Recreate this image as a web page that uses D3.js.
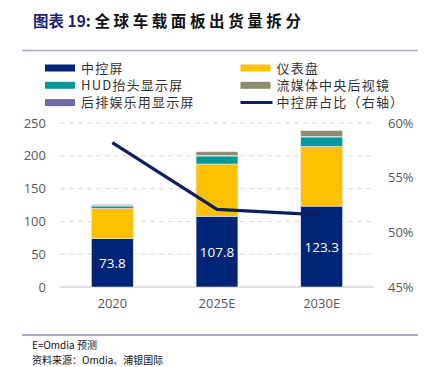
<!DOCTYPE html>
<html><head><meta charset="utf-8">
<script src="https://cdn.jsdelivr.net/npm/d3@7"></script>
<style>
body{margin:0;background:#fff;}
svg{display:block;font-family:"Noto Sans CJK SC","Open Sans",sans-serif;}
</style></head>
<body><svg id="c" width="426" height="367"></svg>
<script>
const categories = ["2020", "2025E", "2030E"];
const seriesNames = ["中控屏", "仪表盘", "HUD抬头显示屏", "流媒体中央后视镜", "后排娱乐用显示屏"];
const centerDisplay = [73.8, 107.8, 123.3];
const cluster = [46.2, 79.7, 91.2];
const hud = [3.4, 12.2, 14.2];
const mirror = [1.6, 5.5, 8.6];
const rearEntertainment = [0.6, 1.0, 1.0];
const shareRatio = [58.2, 52.1, 51.6];
const lineName = "中控屏占比（右轴）";
const leftTicks = [0, 50, 100, 150, 200, 250];
const rightTicks = [45, 50, 55, 60];
const colors = ["#002476", "#FFC000", "#00999A", "#8D8C6C", "#6A6AA8"];

const svg = d3.select("#c");
// Title
const t = svg.append("text").attr("x", 33).attr("y", 27).attr("font-size", 15.5).attr("font-weight", "bold");
t.append("tspan").attr("fill", "#1f1f78").text("图表 19");
t.append("tspan").attr("fill", "#111").attr("letter-spacing", 3.6).text(":全球车载面板出货量拆分");
svg.append("line").attr("x1", 22).attr("x2", 418).attr("y1", 50.5).attr("y2", 50.5).attr("stroke", "#a8a8cc").attr("stroke-width", 1.5);

// Legend
const legendItems = [
  {name: seriesNames[0], color: colors[0], col: 0, row: 0},
  {name: seriesNames[1], color: colors[1], col: 1, row: 0},
  {name: seriesNames[2], color: colors[2], col: 0, row: 1},
  {name: seriesNames[3], color: colors[3], col: 1, row: 1},
  {name: seriesNames[4], color: colors[4], col: 0, row: 2},
  {name: lineName, color: "#0c1f5e", col: 1, row: 2, line: true}
];
const lg = svg.append("g");
legendItems.forEach(d => {
  const x = d.col ? 240.5 : 45, y = 68 + d.row * 17.3;
  if (d.line) lg.append("line").attr("x1", x).attr("x2", x + 32).attr("y1", y).attr("y2", y).attr("stroke", d.color).attr("stroke-width", 3);
  else lg.append("rect").attr("x", x).attr("y", y - 3.5).attr("width", 30).attr("height", 7).attr("fill", d.color);
  lg.append("text").attr("x", x + 36).attr("y", y + 4.5).attr("font-size", 13).attr("letter-spacing", 1.2).attr("fill", "#333").text(d.name);
});

// Scales
const x = d3.scaleBand().domain(categories).range([60, 374]).paddingInner(0.6).paddingOuter(0.3);
const y = d3.scaleLinear().domain([0, 250]).range([287, 123]);
const yr = d3.scaleLinear().domain([45, 60]).range([287, 123]);

// Grid
svg.append("g").selectAll("line").data(leftTicks.filter(v => v > 0)).join("line")
  .attr("x1", 60).attr("x2", 374).attr("y1", d => y(d)).attr("y2", d => y(d))
  .attr("stroke", "#d9d9d9").attr("stroke-dasharray", "5,4").attr("stroke-width", 1);
svg.append("line").attr("x1", 60).attr("x2", 374).attr("y1", y(0)).attr("y2", y(0)).attr("stroke", "#d9d9d9").attr("stroke-width", 1.5);

// Axes
const yl = d3.axisLeft(y).tickValues(leftTicks).tickSize(0).tickPadding(14);
const gl = svg.append("g").attr("transform", "translate(60,0)").call(yl);
gl.select(".domain").remove();
gl.selectAll("text").attr("font-size", 13).attr("fill", "#595959").attr("font-family", "'Open Sans',sans-serif");
const yrA = d3.axisRight(yr).tickValues(rightTicks).tickSize(0).tickPadding(14).tickFormat(d => d + "%");
const gr = svg.append("g").attr("transform", "translate(374,0)").call(yrA);
gr.select(".domain").remove();
gr.selectAll("text").attr("font-size", 13).attr("fill", "#595959").attr("font-family", "'Open Sans',sans-serif");
const xa = d3.axisBottom(x).tickSize(0).tickPadding(12);
const gx = svg.append("g").attr("transform", "translate(0,287)").call(xa);
gx.select(".domain").remove();
gx.selectAll("text").attr("font-size", 13).attr("fill", "#595959").attr("font-family", "'Open Sans',sans-serif");

// Stacked bars
const data = categories.map((c, i) => ({cat: c, s0: centerDisplay[i], s1: cluster[i], s2: hud[i], s3: mirror[i], s4: rearEntertainment[i]}));
const stack = d3.stack().keys(["s0", "s1", "s2", "s4", "s3"])(data);
const keyColor = {s0: colors[0], s1: colors[1], s2: colors[2], s3: colors[3], s4: colors[4]};
svg.append("g").selectAll("g").data(stack).join("g").attr("fill", d => keyColor[d.key])
  .selectAll("rect").data(d => d).join("rect")
  .attr("x", d => x(d.data.cat)).attr("width", x.bandwidth())
  .attr("y", d => y(d[1])).attr("height", d => y(d[0]) - y(d[1]))
  .attr("stroke", "#e6e6ee").attr("stroke-width", 0.6);

// Labels
svg.append("g").selectAll("text").data(data).join("text")
  .attr("x", d => x(d.cat) + x.bandwidth() / 2).attr("y", d => y(d.s0 / 2) + 5)
  .attr("text-anchor", "middle").attr("fill", "#fff").attr("font-size", 13.5)
  .attr("font-family", "'Open Sans',sans-serif").text(d => d.s0.toFixed(1));

// Line
const line = d3.line().x((d, i) => x(categories[i]) + x.bandwidth() / 2).y(d => yr(d));
svg.append("path").datum(shareRatio).attr("d", line).attr("fill", "none")
  .attr("stroke", "#0c1f5e").attr("stroke-width", 3.2).attr("stroke-linejoin", "round");

// Footer
svg.append("line").attr("x1", 22).attr("x2", 418).attr("y1", 335).attr("y2", 335).attr("stroke", "#55558a").attr("stroke-width", 1.2);
svg.append("text").attr("x", 32).attr("y", 349).attr("font-size", 10).attr("fill", "#111").text("E=Omdia 预测");
svg.append("text").attr("x", 32).attr("y", 364).attr("font-size", 10).attr("fill", "#111").text("资料来源：Omdia、浦银国际");
</script></body></html>
